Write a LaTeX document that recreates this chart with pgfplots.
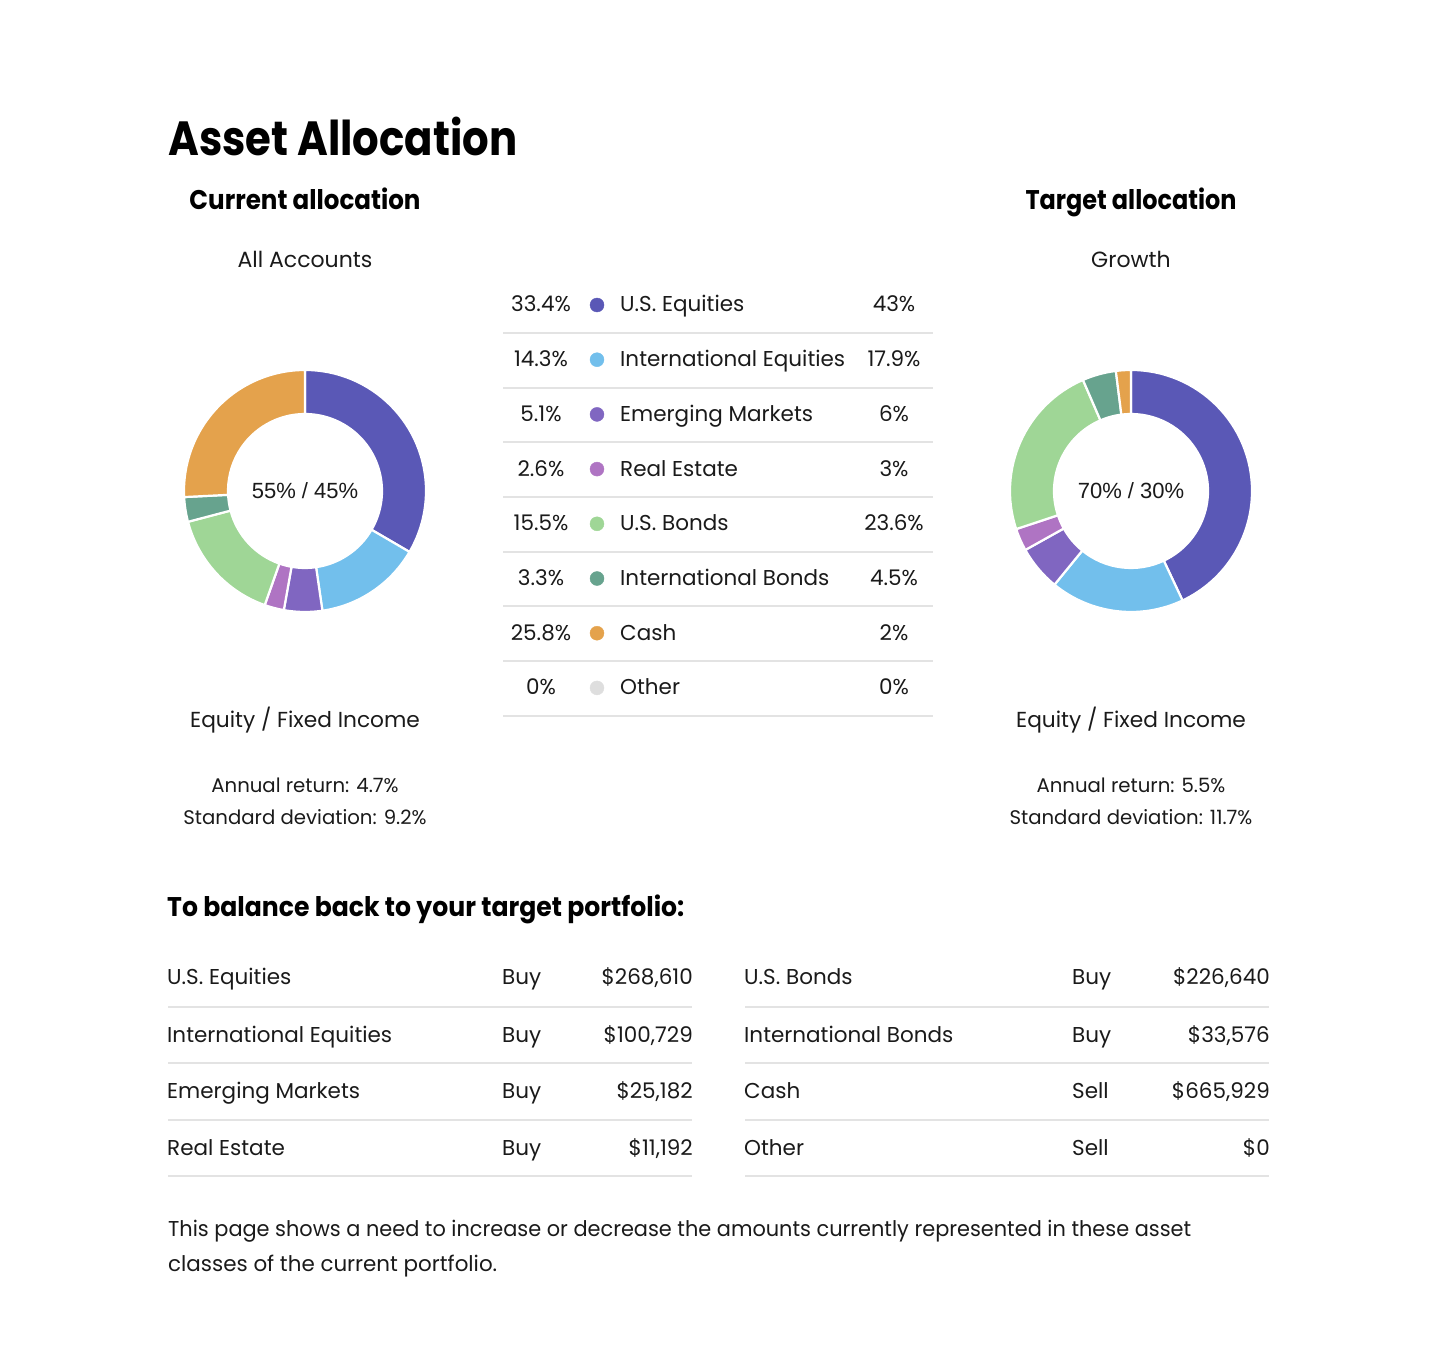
\documentclass[border=0pt]{standalone}
\usepackage{pgfplots}
\pgfplotsset{compat=1.18}
\usepackage{fontspec}
\setmainfont{Poppins}[FakeStretch=1.0, BoldFeatures={FakeStretch=0.93}]
\newfontfamily\arialf{Liberation Sans}
\definecolor{cUSE}{HTML}{5A58B6}
\definecolor{cINE}{HTML}{72BFEC}
\definecolor{cEM}{HTML}{8066C1}
\definecolor{cRE}{HTML}{AF74C3}
\definecolor{cUSB}{HTML}{9FD696}
\definecolor{cINB}{HTML}{67A38E}
\definecolor{cCASH}{HTML}{E4A24C}
\definecolor{cOTH}{HTML}{DEDEDE}
\definecolor{lineg}{HTML}{E3E3E3}
\definecolor{txt}{HTML}{1A1A1A}
\newcommand\fs[1]{\fontsize{#1}{#1}\selectfont}
\newcommand\donut[2]{%
  \xdef\s{90}%
  \foreach \v/\c in {#2} {%
    \pgfmathsetmacro\e{\s-3.6*\v}%
    \ifdim\v pt>0pt
    \fill[\c, draw=white, line width=2.2pt] ([shift={(\s:121pt)}]#1) arc[start angle=\s, end angle=\e, radius=121pt] -- ([shift={(\e:77pt)}]#1) arc[start angle=\e, end angle=\s, radius=77pt] -- cycle;
    \fi
    \xdef\s{\e}%
  }}
\begin{document}
\begin{tikzpicture}
\begin{axis}[scale only axis, width=1433pt, height=1367pt,
  xmin=0, xmax=1433, ymin=0, ymax=1367, y dir=reverse,
  hide axis, clip=false]
\path (axis cs:0,0) coordinate (TL) (axis cs:1433,1367) coordinate (BR);
\path (axis cs:305,491) coordinate (C1) (axis cs:1131,491) coordinate (C2);
\addplot[only marks, mark=*, mark size=7pt, color=cUSE] coordinates {(597,305)};
\addplot[only marks, mark=*, mark size=7pt, color=cINE] coordinates {(597,359.7)};
\addplot[only marks, mark=*, mark size=7pt, color=cEM] coordinates {(597,414.4)};
\addplot[only marks, mark=*, mark size=7pt, color=cRE] coordinates {(597,469.1)};
\addplot[only marks, mark=*, mark size=7pt, color=cUSB] coordinates {(597,523.8)};
\addplot[only marks, mark=*, mark size=7pt, color=cINB] coordinates {(597,578.5)};
\addplot[only marks, mark=*, mark size=7pt, color=cCASH] coordinates {(597,633.2)};
\addplot[only marks, mark=*, mark size=7pt, color=cOTH] coordinates {(597,687.9)};
\end{axis}
\begin{scope}[shift={(TL)}, x=1pt, y=-1pt, every node/.style={inner sep=0pt}]
% headings
\node[anchor=base west, font=\fs{48}\bfseries, text=black] at (168,156) {\resizebox{349pt}{\height}{Asset Allocation}};
\node[anchor=base, font=\fs{27}\bfseries, text=black] at (305,210) {\resizebox{231pt}{\height}{Current allocation}};
\node[anchor=base, font=\fs{27}\bfseries, text=black] at (1131,210) {\resizebox{211pt}{\height}{Target allocation}};
\node[anchor=base, font=\fs{22}, text=txt] at (305,268) {All Accounts};
\node[anchor=base, font=\fs{22}, text=txt] at (1131,268) {Growth};
\node[anchor=base, font=\arialf\fs{22}, text=txt] at (305,499) {55\% / 45\%};
\node[anchor=base, font=\arialf\fs{22}, text=txt] at (1131,499) {70\% / 30\%};
\node[anchor=base, font=\fs{21.7}, text=txt] at (305,728) {Equity / Fixed Income};
\node[anchor=base, font=\fs{21.7}, text=txt] at (1131,728) {Equity / Fixed Income};
\node[anchor=base, font=\fs{19.7}, text=txt] at (305,793) {Annual return: 4.7\%};
\node[anchor=base, font=\fs{19.7}, text=txt] at (305,825) {Standard deviation: 9.2\%};
\node[anchor=base, font=\fs{19.7}, text=txt] at (1131,793) {Annual return: 5.5\%};
\node[anchor=base, font=\fs{19.7}, text=txt] at (1131,825) {Standard deviation: 11.7\%};
% legend table
\foreach \yy in {333,387.7,442.4,497.1,551.8,606.5,661.2,715.9} {
  \draw[lineg, line width=2pt] (503,\yy) -- (933,\yy);
}
\foreach \yy/\a/\n/\b in {312/33.4/U.S. Equities/43, 366.7/14.3/International Equities/17.9, 421.4/5.1/Emerging Markets/6, 476.1/2.6/Real Estate/3, 530.8/15.5/U.S. Bonds/23.6, 585.5/3.3/International Bonds/4.5, 640.2/25.8/Cash/2, 694.9/0/Other/0} {
  \node[anchor=base, font=\fs{21.5}, text=txt] at (541,\yy) {\a\%};
  \node[anchor=base west, font=\fs{21.5}, text=txt] at (620,\yy) {\n};
  \node[anchor=base, font=\fs{21.5}, text=txt] at (894,\yy) {\b\%};
}
% rebalance
\node[anchor=base west, font=\fs{27}\bfseries, text=black] at (167,917) {To balance back to your target portfolio:};
\foreach \yy in {1007,1063.5,1120,1176} {
  \draw[lineg, line width=2pt] (168,\yy) -- (692,\yy);
  \draw[lineg, line width=2pt] (745,\yy) -- (1269,\yy);
}
\foreach \yy/\n/\act/\amt in {985/U.S. Equities/Buy/268{,}610, 1042.5/International Equities/Buy/100{,}729, 1099/Emerging Markets/Buy/25{,}182, 1155.5/Real Estate/Buy/11{,}192} {
  \node[anchor=base west, font=\fs{21.5}, text=txt] at (167,\yy) {\n};
  \node[anchor=base west, font=\fs{21.5}, text=txt] at (502,\yy) {\act};
  \node[anchor=base east, font=\fs{21.5}, text=txt] at (693,\yy) {\$\amt};
}
\foreach \yy/\n/\act/\amt in {985/U.S. Bonds/Buy/226{,}640, 1042.5/International Bonds/Buy/33{,}576, 1099/Cash/Sell/665{,}929, 1155.5/Other/Sell/0} {
  \node[anchor=base west, font=\fs{21.5}, text=txt] at (744,\yy) {\n};
  \node[anchor=base west, font=\fs{21.5}, text=txt] at (1072,\yy) {\act};
  \node[anchor=base east, font=\fs{21.5}, text=txt] at (1270,\yy) {\$\amt};
}
\node[anchor=base west, font=\fs{21.5}, text=txt] at (168,1237) {\resizebox{1023pt}{\height}{This page shows a need to increase or decrease the amounts currently represented in these asset}};
\node[anchor=base west, font=\fs{21.5}, text=txt] at (168,1272) {\resizebox{329pt}{\height}{classes of the current portfolio.}};
\end{scope}
\donut{C1}{33.4/cUSE,14.3/cINE,5.1/cEM,2.6/cRE,15.5/cUSB,3.3/cINB,25.8/cCASH,0/cOTH}
\donut{C2}{43/cUSE,17.9/cINE,6/cEM,3/cRE,23.6/cUSB,4.5/cINB,2/cCASH,0/cOTH}
\pgfresetboundingbox
\path[use as bounding box] (TL) rectangle (BR);
\end{tikzpicture}
\end{document}
